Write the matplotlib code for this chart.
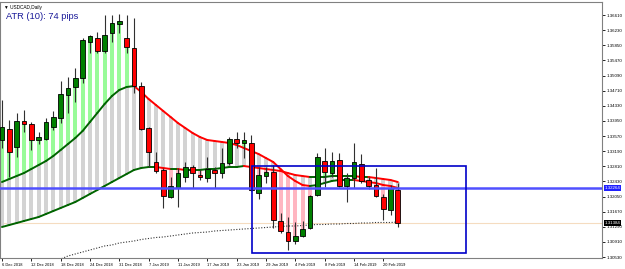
import numpy as np
import matplotlib
matplotlib.use('Agg')
import matplotlib.pyplot as plt
from matplotlib.patches import Rectangle

# daily candles, USDCAD, 6 Dec 2018 .. 22 Feb 2019
opens = [1.33470, 1.33746, 1.33294, 1.33947, 1.33872, 1.33470, 1.33495, 1.33796, 1.34022, 1.34600,
         1.34801, 1.35027, 1.35932, 1.36032, 1.35706, 1.36158, 1.36384, 1.36032, 1.35781, 1.34826,
         1.33771, 1.32917, 1.32716, 1.32038, 1.32264, 1.32540, 1.32791, 1.32590, 1.32515, 1.32716,
         1.32640, 1.32892, 1.33495, 1.33394, 1.33394, 1.32138, 1.32565, 1.32666, 1.31435, 1.31158,
         1.30932, 1.31058, 1.31259, 1.32088, 1.32942, 1.32640, 1.32967, 1.32314, 1.32515, 1.32867,
         1.32465, 1.32339, 1.32038, 1.31711, 1.32213]
highs = [1.34475, 1.33972, 1.34148, 1.34223, 1.33922, 1.33671, 1.34022, 1.34198, 1.34952, 1.35053,
         1.35279, 1.36032, 1.36108, 1.36183, 1.36610, 1.36610, 1.36635, 1.36610, 1.36535, 1.34927,
         1.33796, 1.33168, 1.32766, 1.32540, 1.32766, 1.32917, 1.32841, 1.32716, 1.33043, 1.32791,
         1.33269, 1.33545, 1.33671, 1.33671, 1.33595, 1.32791, 1.32791, 1.32841, 1.31636, 1.31535,
         1.31409, 1.31435, 1.32088, 1.33143, 1.33269, 1.33168, 1.33143, 1.32640, 1.33394, 1.33118,
         1.32540, 1.32766, 1.32113, 1.32339, 1.32389]
lows = [1.33269, 1.32540, 1.33043, 1.33671, 1.33218, 1.33369, 1.33470, 1.33721, 1.33897, 1.34148,
        1.34424, 1.34902, 1.35655, 1.35655, 1.35655, 1.35932, 1.36158, 1.35655, 1.34651, 1.33721,
        1.32791, 1.32640, 1.31761, 1.32012, 1.31786, 1.32414, 1.32264, 1.32465, 1.32414, 1.32264,
        1.32515, 1.32841, 1.33269, 1.33017, 1.32188, 1.31987, 1.32389, 1.31259, 1.31133, 1.30706,
        1.30857, 1.31033, 1.31234, 1.32063, 1.32289, 1.32540, 1.32289, 1.31912, 1.32264, 1.32389,
        1.32239, 1.32038, 1.31460, 1.31585, 1.31284]
closes = [1.33796, 1.33168, 1.33947, 1.33872, 1.33470, 1.33545, 1.33922, 1.34048, 1.34625, 1.34776,
          1.35027, 1.35982, 1.36083, 1.35706, 1.36108, 1.36409, 1.36459, 1.35806, 1.34826, 1.33746,
          1.33168, 1.32691, 1.32063, 1.32314, 1.32640, 1.32791, 1.32640, 1.32540, 1.32741, 1.32640,
          1.32892, 1.33495, 1.33394, 1.33470, 1.32213, 1.32590, 1.32666, 1.31460, 1.31183, 1.30932,
          1.31058, 1.31234, 1.32063, 1.33043, 1.32666, 1.32942, 1.32314, 1.32515, 1.32917, 1.32440,
          1.32314, 1.32063, 1.31736, 1.32264, 1.31384]

# fast and slow moving averages as drawn on the chart
ma_fast = [1.32414, 1.32490, 1.32565, 1.32640, 1.32741, 1.32841, 1.32942, 1.33068, 1.33218, 1.33369,
           1.33520, 1.33696, 1.33922, 1.34148, 1.34374, 1.34575, 1.34726, 1.34801, 1.34826, 1.34676,
           1.34500, 1.34349, 1.34198, 1.34048, 1.33897, 1.33771, 1.33646, 1.33545, 1.33470, 1.33445,
           1.33420, 1.33394, 1.33344, 1.33269, 1.33193, 1.33118, 1.33017, 1.32917, 1.32741, 1.32565,
           1.32440, 1.32339, 1.32314, 1.32339, 1.32389, 1.32440, 1.32465, 1.32465, 1.32465, 1.32440,
           1.32414, 1.32389, 1.32339, 1.32314, 1.32264]
ma_slow = [1.31284, 1.31334, 1.31384, 1.31435, 1.31485, 1.31535, 1.31610, 1.31686, 1.31761, 1.31837,
           1.31912, 1.32012, 1.32113, 1.32213, 1.32314, 1.32414, 1.32515, 1.32615, 1.32716, 1.32766,
           1.32791, 1.32791, 1.32766, 1.32741, 1.32741, 1.32716, 1.32716, 1.32716, 1.32741, 1.32741,
           1.32766, 1.32791, 1.32791, 1.32816, 1.32791, 1.32766, 1.32741, 1.32716, 1.32691, 1.32640,
           1.32590, 1.32565, 1.32540, 1.32540, 1.32540, 1.32565, 1.32565, 1.32565, 1.32565, 1.32540,
           1.32540, 1.32515, 1.32490, 1.32465, 1.32414]
# long dotted average (starts below the visible range)
ma_long = [np.nan] * 7 + [1.30480, 1.30480, 1.30555, 1.30606, 1.30656, 1.30706, 1.30756, 1.30807, 1.30832,
           1.30882, 1.30907, 1.30932, 1.30970, 1.30995, 1.31020, 1.31033, 1.31058, 1.31083, 1.31108,
           1.31133, 1.31146, 1.31158, 1.31183, 1.31196, 1.31208, 1.31221, 1.31234, 1.31246, 1.31259,
           1.31271, 1.31284, 1.31296, 1.31309, 1.31309, 1.31322, 1.31334, 1.31347, 1.31347, 1.31359,
           1.31359, 1.31372, 1.31372, 1.31384, 1.31384, 1.31397, 1.31397, 1.31397, 1.31410]

date_labels = ['6 Dec 2018', '12 Dec 2018', '18 Dec 2018', '24 Dec 2018', '31 Dec 2018', '7 Jan 2019',
               '11 Jan 2019', '17 Jan 2019', '23 Jan 2019', '29 Jan 2019', '4 Feb 2019', '8 Feb 2019',
               '14 Feb 2019', '20 Feb 2019']
price_ticks = [1.30530, 1.30910, 1.31290, 1.31670, 1.32050, 1.32430, 1.32810, 1.33190, 1.33570,
               1.33950, 1.34330, 1.34710, 1.35090, 1.35470, 1.35850, 1.36230, 1.36610]
hline_price = 1.32264
box_x = (34.1, 63.3)
box_y = (1.30631, 1.32816)

SMALL = 'Liberation Sans'


def main():
    o = np.array(opens)
    h = np.array(highs)
    lo = np.array(lows)
    c = np.array(closes)
    fa = np.array(ma_fast)
    sl = np.array(ma_slow)
    x = np.arange(len(o))

    fig = plt.figure(figsize=(6.25, 2.69), dpi=100)
    ax = fig.add_axes([0, 11 / 269, 602 / 625, 256 / 269])
    ax.set_xlim(-0.27, 81.85)
    ax.set_ylim(1.30505, 1.36937)

    # histogram band between the averages, plus trend bars up/down to price
    band_hi = np.maximum(fa, sl)
    band_lo = np.minimum(fa, sl)
    ax.bar(x, band_hi - band_lo, bottom=band_lo, width=0.55, color='#d3d3d3', zorder=1)
    body_hi = np.maximum(o, c)
    body_lo = np.minimum(o, c)
    up = body_hi > band_hi
    ax.bar(x[up], (body_hi - band_hi)[up], bottom=band_hi[up], width=0.55, color='#98fb98', zorder=1)
    dn = body_lo < band_lo
    ax.bar(x[dn], (band_lo - body_lo)[dn], bottom=body_lo[dn], width=0.55, color='#ffb6c1', zorder=1)

    # averages, green when rising, red when falling
    for ma in (fa, sl):
        for i in range(len(ma) - 1):
            col = '#006400' if ma[i + 1] >= ma[i] else '#ff0000'
            ax.plot(x[i:i + 2], ma[i:i + 2], color=col, lw=1.4, zorder=3, solid_capstyle='round')
    ax.plot(x, ma_long, color='#333333', lw=0.8, ls=(0, (1, 1.5)), zorder=3)

    # candles
    ax.vlines(x, lo, h, color='#303030', lw=0.8, zorder=4)
    bull = c >= o
    hgt = np.maximum(body_hi - body_lo, 0.00008)
    ax.bar(x[bull], hgt[bull], bottom=body_lo[bull], width=0.64, color='#008000',
           edgecolor='#000000', lw=0.6, zorder=5)
    ax.bar(x[~bull], hgt[~bull], bottom=body_lo[~bull], width=0.64, color='#ff0000',
           edgecolor='#000000', lw=0.6, zorder=5)

    # horizontal line, box and current price line
    ax.axhline(hline_price, color='#5050ff', lw=1.8, zorder=6)
    ax.add_patch(Rectangle((box_x[0], box_y[0]), box_x[1] - box_x[0], box_y[1] - box_y[0],
                           fill=False, edgecolor='#0000c8', lw=1.2, zorder=6))
    ax.axhline(c[-1], color='#f5dcc0', lw=0.8, zorder=0)

    # axes like the terminal: prices on the right, dates below
    for s in ax.spines.values():
        s.set_color('#808080')
        s.set_linewidth(0.8)
    ax.yaxis.tick_right()
    ax.set_yticks(price_ticks)
    ax.set_yticklabels(['%.5f' % p for p in price_ticks], family=SMALL)
    ax.tick_params(axis='y', length=2, width=0.6, labelsize=3.2, pad=1.5, colors='#000000')
    ax.set_xticks(np.arange(0, 4 * len(date_labels), 4))
    ax.set_xticklabels(date_labels, ha='left', family=SMALL)
    ax.tick_params(axis='x', length=2, width=0.6, labelsize=2.9, pad=1.5, colors='#000000')

    # price tags on the scale
    ax.text(1.004, hline_price, '%.5f' % hline_price, transform=ax.get_yaxis_transform(),
            fontsize=3.2, family=SMALL, color='white', va='center', ha='left',
            bbox=dict(boxstyle='square,pad=0.2', fc='#2020ff', ec='none'))
    ax.text(1.004, c[-1], '%.5f' % c[-1], transform=ax.get_yaxis_transform(),
            fontsize=3.2, family=SMALL, color='white', va='center', ha='left',
            bbox=dict(boxstyle='square,pad=0.2', fc='#000000', ec='none'))

    ax.text(0.006, 0.988, '\u25bc USDCAD,Daily', transform=ax.transAxes, fontsize=3.4,
            family=['Liberation Sans', 'DejaVu Sans'], va='top', ha='left', color='#000000')
    ax.text(0.01, 0.962, 'ATR (10): 74 pips', transform=ax.transAxes, fontsize=6.7,
            family=SMALL, va='top', ha='left', color='#1a1a99')

    fig.savefig('out.png', dpi=100)


if __name__ == '__main__':
    main()
